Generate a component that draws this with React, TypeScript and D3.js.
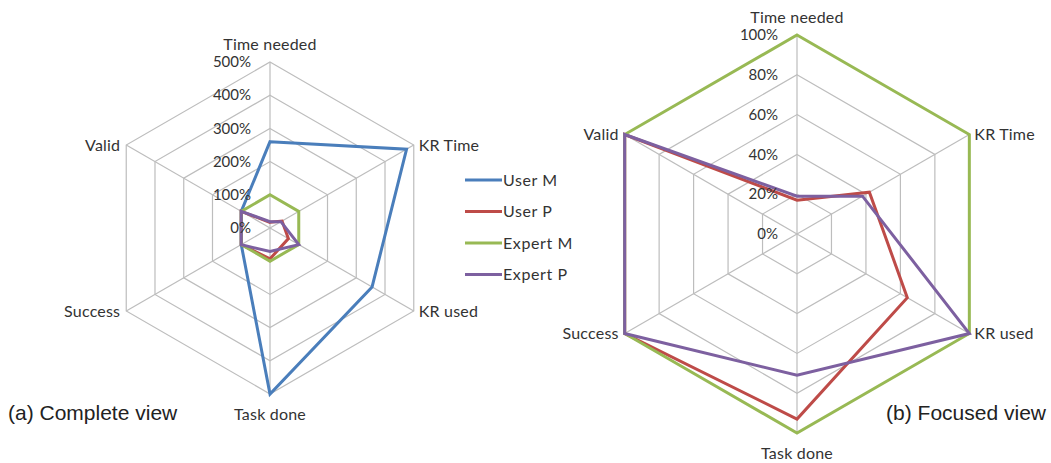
import React from 'react';
import * as d3 from 'd3';

const axes = ['Time needed', 'KR Time', 'KR used', 'Task done', 'Success', 'Valid'];

// values as fraction (1 = 100%)
const userM = [2.6, 4.75, 3.55, 5.0, 1.0, 1.0];
const userP = [0.17, 0.42, 0.64, 0.93, 1.0, 1.0];
const expertM = [1.0, 1.0, 1.0, 1.0, 1.0, 1.0];
const expertP = [0.19, 0.38, 1.0, 0.71, 1.0, 1.0];

const completeTicks = [0, 1, 2, 3, 4, 5];
const focusedTicks = [0, 0.2, 0.4, 0.6, 0.8, 1.0];

const seriesNames = ['User M', 'User P', 'Expert M', 'Expert P'];
const seriesColors = ['#4a7ebb', '#be4b48', '#98b954', '#7d60a0'];
const seriesValues = [userM, userP, expertM, expertP];

const FONT = 'Lato, "Open Sans", sans-serif';
const TEXT = '#333';

type RadarProps = {
  cx: number;
  cy: number;
  radius: number;
  ticks: number[];
  show: boolean[];
};

const Radar = ({ cx, cy, radius, ticks, show }: RadarProps) => {
  const max = ticks[ticks.length - 1];
  const r = d3.scaleLinear().domain([0, max]).range([0, radius]);
  const angle = d3.scaleLinear().domain([0, axes.length]).range([0, 2 * Math.PI]);

  const ring = d3
    .lineRadial<number>()
    .angle((_, i) => angle(i))
    .radius(d => r(d))
    .curve(d3.curveLinearClosed);

  const pt = (i: number, v: number) => {
    const a = angle(i);
    return [Math.sin(a) * r(v), -Math.cos(a) * r(v)];
  };

  return (
    <g transform={`translate(${cx},${cy})`}>
      {/* grid rings */}
      {ticks.slice(1).map(t => (
        <path key={t} d={ring(axes.map(() => t)) || ''} fill="none" stroke="#bdbdbd" strokeWidth={1.2} />
      ))}
      {/* spokes */}
      {axes.map((a, i) => {
        const [x, y] = pt(i, max);
        return <line key={a} x1={0} y1={0} x2={x} y2={y} stroke="#bdbdbd" strokeWidth={1.2} />;
      })}
      {/* series */}
      {seriesValues.map((vals, s) =>
        show[s] ? (
          <path
            key={seriesNames[s]}
            d={ring(vals) || ''}
            fill="none"
            stroke={seriesColors[s]}
            strokeWidth={3}
            strokeLinejoin="miter"
          />
        ) : null
      )}
      {/* tick labels */}
      {ticks.map(t => (
        <text
          key={'t' + t}
          x={-19}
          y={-r(t)}
          dy="0.35em"
          textAnchor="end"
          fontFamily={FONT}
          fontSize={15}
          fill={TEXT}
        >
          {d3.format('.0%')(t)}
        </text>
      ))}
      {/* axis labels */}
      {axes.map((a, i) => {
        const [x, y] = pt(i, max);
        let anchor = 'middle';
        let lx = x;
        let ly = y;
        if (i === 0) ly = y - 18;
        else if (i === 3) ly = y + 20;
        else if (x > 0) {
          anchor = 'start';
          lx = x + 5;
        } else {
          anchor = 'end';
          lx = x - 6;
        }
        return (
          <text
            key={'a' + a}
            x={lx}
            y={ly}
            dy="0.35em"
            textAnchor={anchor}
            fontFamily={FONT}
            fontSize={16}
            letterSpacing={0.2}
            fill={TEXT}
          >
            {a}
          </text>
        );
      })}
    </g>
  );
};

export default function App() {
  const width = 1051;
  const height = 463;
  return (
    <svg
      width={width}
      height={height}
      style={{ position: 'absolute', left: 0, top: 0, background: '#fff' }}
    >
      <Radar cx={270} cy={228} radius={166} ticks={completeTicks} show={[true, true, true, true]} />
      <Radar cx={797} cy={234} radius={199} ticks={focusedTicks} show={[false, true, true, true]} />

      {/* legend */}
      {seriesNames.map((name, i) => {
        const y = 180 + i * 31.5;
        return (
          <g key={name}>
            <line x1={465} x2={502} y1={y} y2={y} stroke={seriesColors[i]} strokeWidth={3} />
            <text x={503} y={y} dy="0.35em" fontFamily={FONT} fontSize={16} letterSpacing={0.6} fill={TEXT}>
              {name}
            </text>
          </g>
        );
      })}

      <text x={8} y={420} fontFamily='"Liberation Sans", Arial, sans-serif' fontSize={21} fill="#222">
        (a) Complete view
      </text>
      <text x={1046} y={420} textAnchor="end" fontFamily='"Liberation Sans", Arial, sans-serif' fontSize={21} fill="#222">
        (b) Focused view
      </text>
    </svg>
  );
}
